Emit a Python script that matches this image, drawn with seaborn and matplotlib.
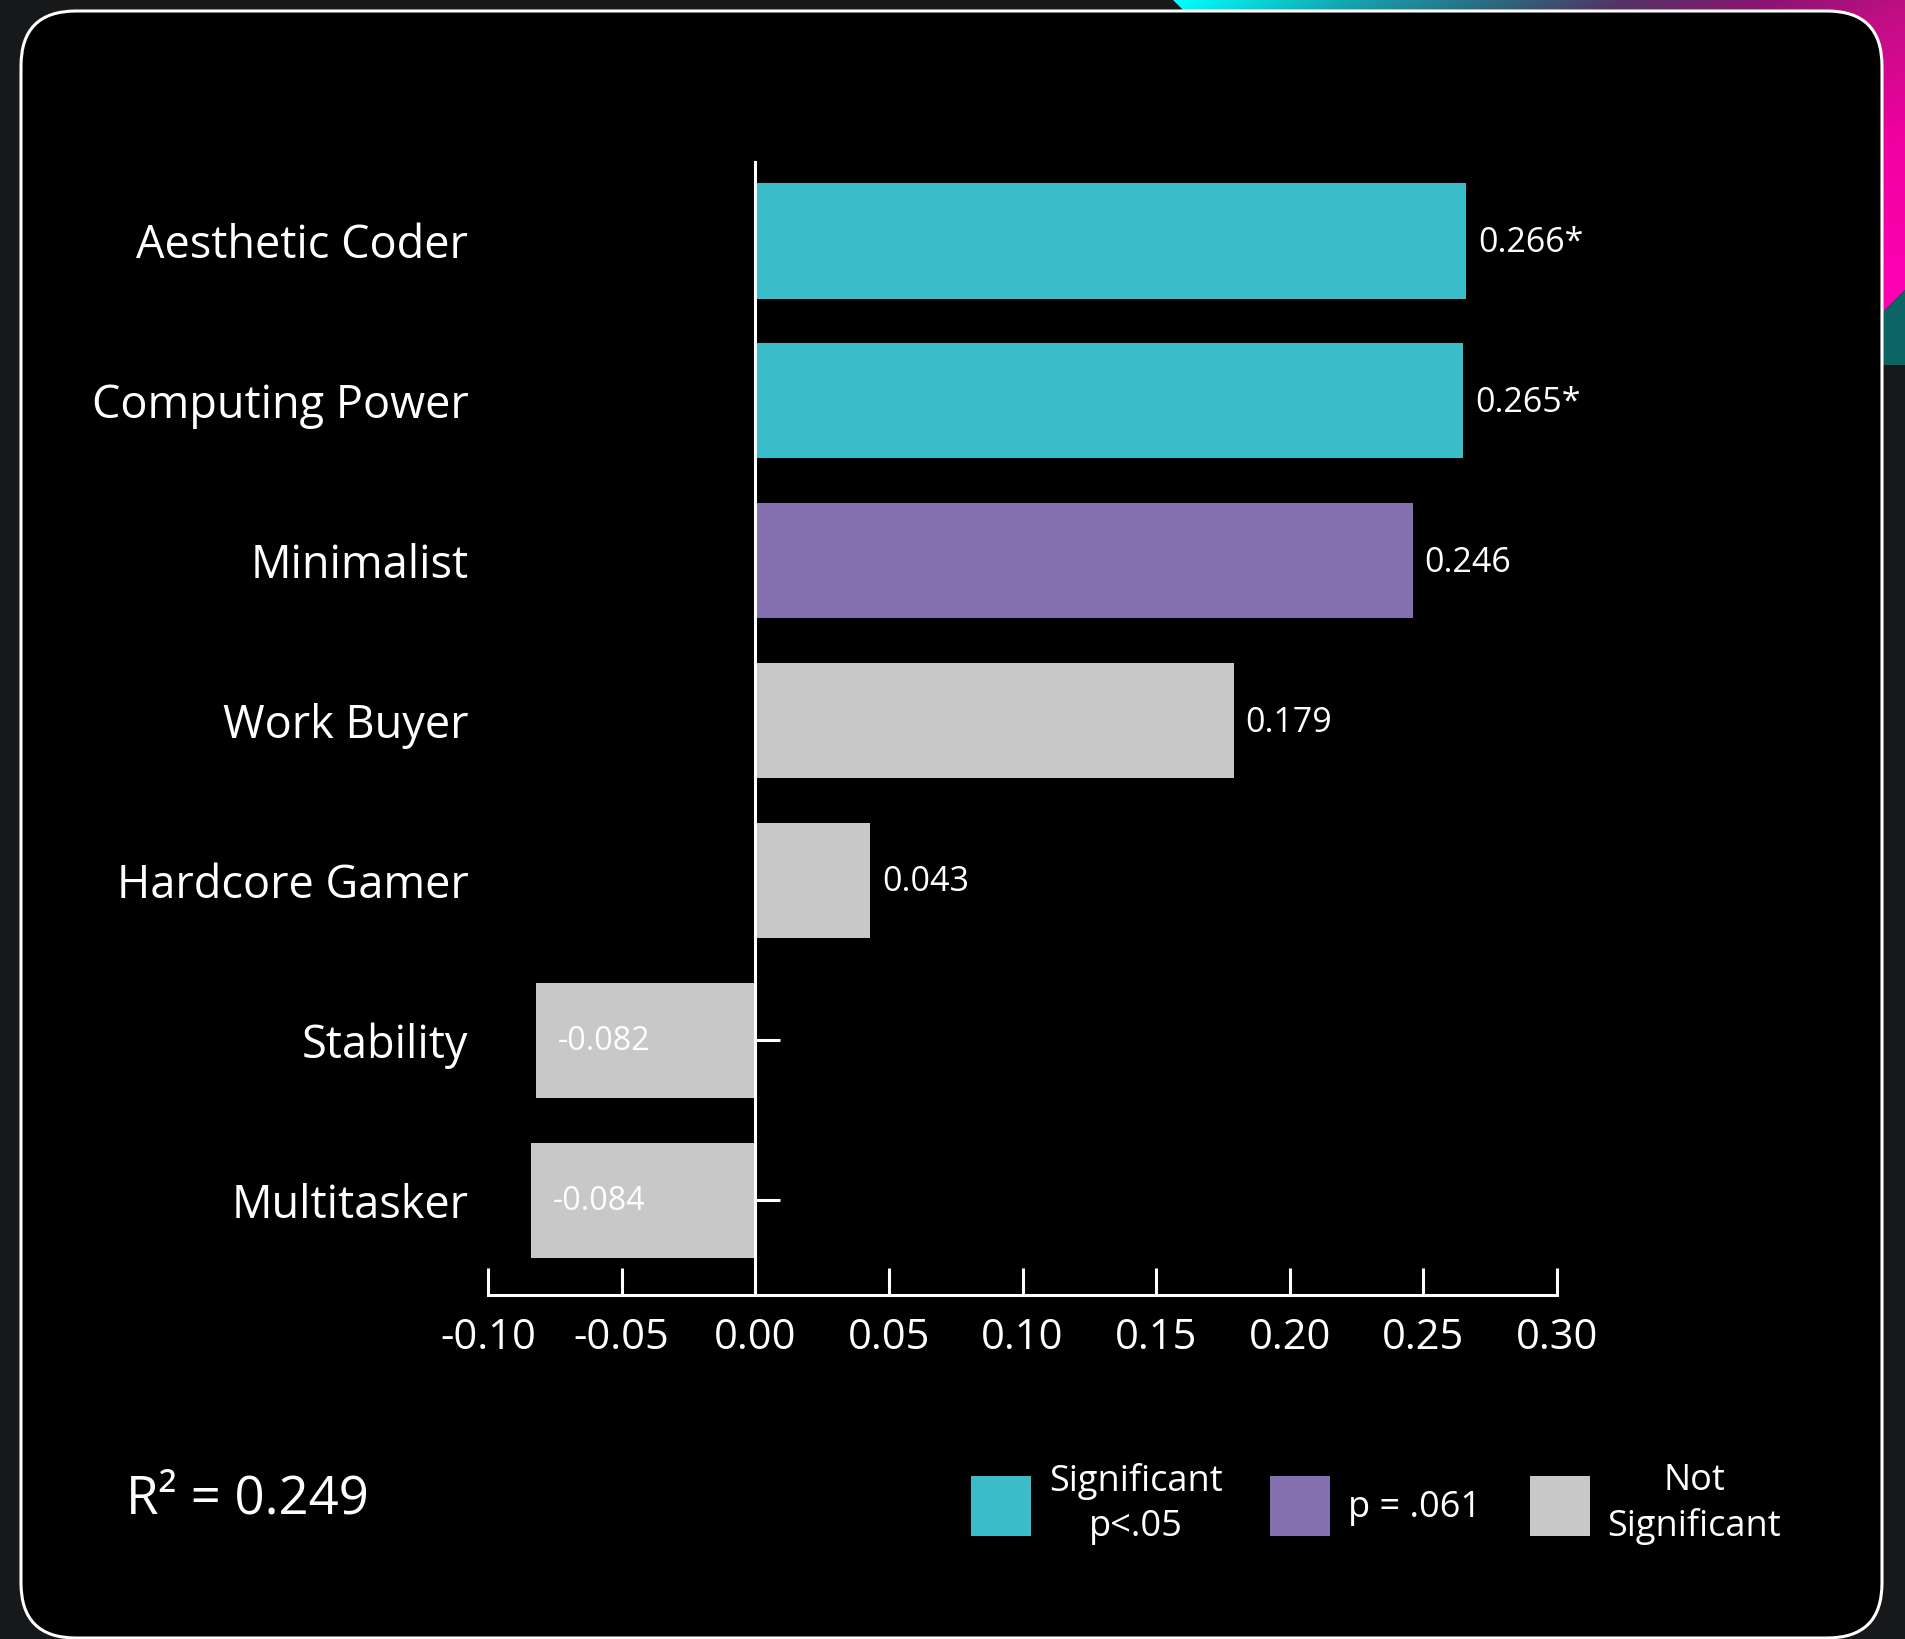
import numpy as np
import pandas as pd
import matplotlib
matplotlib.use("Agg")
import matplotlib.pyplot as plt
import seaborn as sns
from matplotlib.patches import Patch, FancyBboxPatch, Polygon

# ---------------- data ----------------
categories = ["Aesthetic Coder", "Computing Power", "Minimalist", "Work Buyer",
              "Hardcore Gamer", "Stability", "Multitasker"]
coefficients = [0.266, 0.265, 0.246, 0.179, 0.043, -0.082, -0.084]
value_labels = ["0.266*", "0.265*", "0.246", "0.179", "0.043", "-0.082", "-0.084"]
significance = ["Significant", "Significant", "Marginal", "Not significant",
                "Not significant", "Not significant", "Not significant"]
x_ticks = [-0.10, -0.05, 0.00, 0.05, 0.10, 0.15, 0.20, 0.25, 0.30]
x_tick_labels = ["-0.10", "-0.05", "0.00", "0.05", "0.10", "0.15", "0.20", "0.25", "0.30"]
legend_groups = ["Significant", "Marginal", "Not significant"]
legend_labels = ["Significant\np<.05", "p = .061", "Not\nSignificant"]
group_colors = {"Significant": "#3abdc8", "Marginal": "#8470af", "Not significant": "#c8c8c8"}
r_squared_text = "R\u00b2 = 0.249"

df = pd.DataFrame({"category": categories, "coef": coefficients, "sig": significance})

# ---------------- style ----------------
sns.set_style("dark", rc={"axes.facecolor": "none", "figure.facecolor": "#17181a",
                          "text.color": "white", "axes.labelcolor": "white",
                          "xtick.color": "white", "ytick.color": "white",
                          "xtick.bottom": True, "ytick.left": True})
plt.rcParams["font.family"] = ["Open Sans", "DejaVu Sans"]

W, H = 1905, 1639
fig = plt.figure(figsize=(W / 100, H / 100), dpi=100)
fig.patch.set_facecolor("#17181a")

# ---------------- background decoration ----------------
bg = fig.add_axes([0, 0, 1, 1], zorder=0)
bg.set_axis_off()
ys, xs = np.mgrid[0:520, 1165:1905] + 0.5
t = np.clip(((xs - 1180) + 2.0 * ys) / 1325.0, 0, 1)
stops = [0.0, 0.13, 0.25, 0.34, 0.45, 0.55, 0.75, 1.0]
r = [0, 20, 45, 85, 140, 190, 240, 255]
g = [255, 165, 100, 50, 20, 15, 0, 0]
b = [255, 175, 125, 100, 115, 130, 160, 180]
img = np.dstack([np.interp(t, stops, r), np.interp(t, stops, g), np.interp(t, stops, b)]) / 255.0
im = bg.imshow(img, extent=(1165, 1905, 520, 0), interpolation="bilinear", zorder=1, aspect="auto")
clip = Polygon([(1173, 0), (1905, 0), (1905, 290), (1684, 511)], closed=True,
               facecolor="none", edgecolor="none", transform=bg.transData)
bg.add_patch(clip)
im.set_clip_path(clip)
bg.add_patch(Polygon([(1905, 290), (1905, 365), (1830, 365)], closed=True,
                     facecolor="#0d6464", edgecolor="none", zorder=1))
bg.add_patch(FancyBboxPatch((21, 11), 1861, 1627, boxstyle="round,pad=0,rounding_size=55",
                            facecolor="black", edgecolor="white", linewidth=2.2, zorder=2))
bg.set_xlim(0, W)
bg.set_ylim(H, 0)

# ---------------- main chart ----------------
ax = fig.add_axes([488 / W, 1 - 1295 / H, (1557 - 488) / W, (1295 - 162) / H], zorder=1)
ax.set_facecolor("none")
sns.barplot(data=df, x="coef", y="category", hue="sig", palette=group_colors,
            orient="h", dodge=False, width=0.72, saturation=1, legend=False,
            edgecolor="none", linewidth=0, ax=ax)
ax.grid(False)
ax.set_axisbelow(True)
ax.set_xlim(-0.10, 0.30)
ax.set_ylim(6.594, -0.494)
ax.set_xticks(x_ticks, labels=x_tick_labels)
ax.set_xlabel("")
ax.set_ylabel("")

for s in ["top", "right"]:
    ax.spines[s].set_visible(False)
ax.spines["left"].set_position(("data", 0))
for s in ["left", "bottom"]:
    ax.spines[s].set_color("white")
    ax.spines[s].set_linewidth(2.2)

ax.tick_params(axis="x", bottom=True, direction="in", length=19.4, width=2.2, colors="white",
               labelsize=30, pad=16)
ax.tick_params(axis="y", left=True, direction="in", length=18, width=2.2, colors="white",
               labelsize=32.5, pad=206.6)

for i, (v, lab) in enumerate(zip(coefficients, value_labels)):
    if v >= 0:
        ax.annotate(lab, (v, i), xytext=(8.6, -1.5), textcoords="offset points",
                    ha="left", va="center", fontsize=24.5, color="white")
    else:
        ax.annotate(lab, (v, i), xytext=(15.8, -1), textcoords="offset points",
                    ha="left", va="center", fontsize=23.2, color="white")

# ---------------- annotations ----------------
fig.text(126 / W, 1 - 1513 / H, r_squared_text, fontsize=38, ha="left", va="baseline",
         color="white")

handles = [Patch(facecolor=group_colors[gname], edgecolor="none") for gname in legend_groups]
leg = fig.legend(handles=handles, labels=legend_labels, loc="center left",
                 bbox_to_anchor=(970.7 / W, 1 - 1504 / H), ncol=3, frameon=False,
                 fontsize=26, handlelength=1.66, handleheight=2.18, handletextpad=0.5,
                 columnspacing=1.33, borderpad=0, borderaxespad=0, labelcolor="white")
for txt in leg.get_texts():
    txt.set_multialignment("center")
    txt.set_linespacing(1.35)

fig.savefig("out.png", dpi=100, facecolor=fig.get_facecolor())
